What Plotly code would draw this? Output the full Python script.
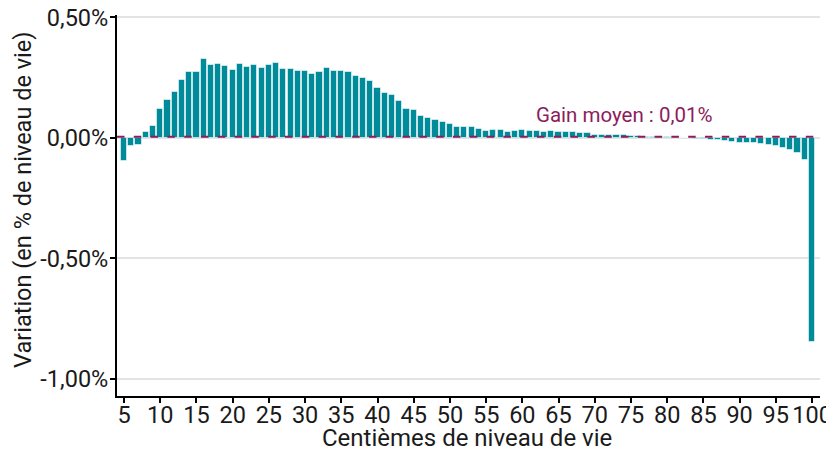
import plotly.graph_objects as go

centiles = list(range(5, 101))
variation = [
    -0.095, -0.035, -0.031, 0.023, 0.051, 0.120, 0.156, 0.192, 0.242, 0.272,   # 5-14
    0.272, 0.326, 0.303, 0.305, 0.297, 0.283, 0.305, 0.294, 0.301, 0.290,      # 15-24
    0.302, 0.310, 0.288, 0.284, 0.276, 0.276, 0.267, 0.273, 0.292, 0.278,      # 25-34
    0.278, 0.273, 0.255, 0.248, 0.235, 0.208, 0.185, 0.177, 0.153, 0.122,      # 35-44
    0.116, 0.091, 0.081, 0.074, 0.066, 0.058, 0.045, 0.044, 0.046, 0.036,      # 45-54
    0.028, 0.035, 0.035, 0.026, 0.028, 0.032, 0.028, 0.028, 0.025, 0.027,      # 55-64
    0.025, 0.026, 0.024, 0.021, 0.019, 0.014, 0.012, 0.012, 0.011, 0.011,      # 65-74
    0.010, 0.007, 0.006, 0.005, 0.004, 0.003, 0.002, 0.001, -0.002, -0.003,    # 75-84
    -0.005, -0.007, -0.009, -0.012, -0.017, -0.020, -0.020, -0.022, -0.024, -0.030,  # 85-94
    -0.034, -0.042, -0.049, -0.063, -0.091, -0.845,                             # 95-100
]
gain_moyen = 0.005
gain_label = "Gain moyen : 0,01%"

x_tickvals = list(range(5, 101, 5))
y_tickvals = [-1.0, -0.5, 0.0, 0.5]
y_ticktext = ["-1,00%", "-0,50%", "0,00%", "0,50%"]

TEAL = "#008B9B"
PURPLE = "#8C1D5C"
FONT = "Roboto"
TXT = "#1a1a1a"

fig = go.Figure()
fig.add_trace(go.Bar(
    x=centiles, y=variation, width=0.85,
    marker=dict(color=TEAL, line=dict(color="rgba(255,255,255,0.55)", width=1)),
    hoverinfo="x+y",
))

fig.add_shape(type="line", xref="paper", yref="y", x0=0, x1=1, y0=gain_moyen, y1=gain_moyen,
              line=dict(color=PURPLE, width=2, dash="7.5px,9.3px"), layer="above")

fig.add_annotation(x=74.1, y=0.095, xref="x", yref="y", text=gain_label, showarrow=False,
                   font=dict(family=FONT, size=20.5, color=PURPLE), xanchor="center", yanchor="middle")

# axis titles as annotations for exact placement
fig.add_annotation(x=0.498, y=-0.110, xref="paper", yref="paper", text="Centièmes de niveau de vie",
                   showarrow=False, font=dict(family=FONT, size=24, color=TXT),
                   xanchor="center", yanchor="middle")
fig.add_annotation(x=-0.134, y=0.514, xref="paper", yref="paper", text="Variation (en % de niveau de vie)",
                   showarrow=False, textangle=-90, font=dict(family=FONT, size=23.5, color=TXT),
                   xanchor="center", yanchor="middle")

# the page body adds an 8px offset, so the figure is sized/margined to compensate
fig.update_layout(
    width=826, height=445,
    margin=dict(l=109, r=14, t=7, b=57, autoexpand=False),
    paper_bgcolor="white", plot_bgcolor="white",
    showlegend=False, bargap=0,
    font=dict(family=FONT, size=23.5, color=TXT),
)
fig.update_xaxes(
    range=[4.03, 101.1], tickvals=x_tickvals, ticktext=[str(v) for v in x_tickvals],
    showgrid=False, zeroline=False, automargin=False,
    showline=True, linecolor="black", linewidth=2,
    ticks="outside", ticklen=5, tickwidth=1.5, tickcolor="black",
    tickfont=dict(family=FONT, size=23.5, color=TXT),
    ticklabelstandoff=-8, ticklabeloverflow="allow",
)
fig.update_yaxes(
    range=[-1.0705, 0.51], tickvals=y_tickvals, ticktext=y_ticktext,
    showgrid=True, gridcolor="#E3E3E3", gridwidth=1.5, zeroline=False, automargin=False,
    showline=True, linecolor="black", linewidth=2,
    ticks="outside", ticklen=5, tickwidth=1.5, tickcolor="black",
    tickfont=dict(family=FONT, size=23.5, color=TXT),
    ticklabelstandoff=-3, ticklabeloverflow="allow",
)

fig.write_html("out.html")
